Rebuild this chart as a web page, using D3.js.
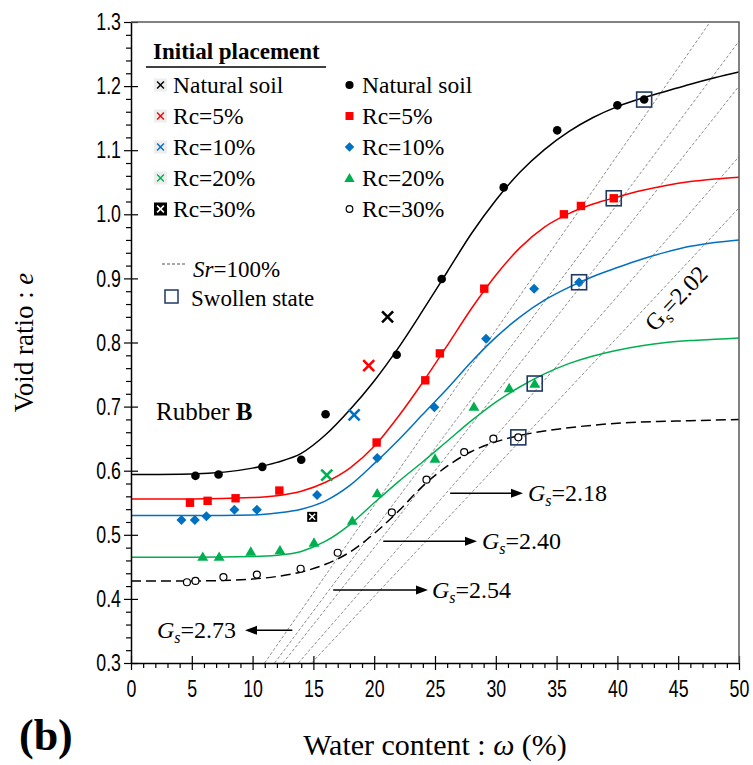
<!DOCTYPE html>
<html>
<head>
<meta charset="utf-8">
<script src="https://cdn.jsdelivr.net/npm/d3@7"></script>
<style>
  body { margin: 0; background: #fff; }
  svg { display: block; }
</style>
</head>
<body>
<svg id="chart" width="753" height="765"></svg>
<script>
// ---- axis ticks ----
const xTicks = [0, 5, 10, 15, 20, 25, 30, 35, 40, 45, 50];
const yTicks = [0.3, 0.4, 0.5, 0.6, 0.7, 0.8, 0.9, 1.0, 1.1, 1.2, 1.3];

// ---- measured compaction points: water content w (%) and void ratio e ----
const natW  = [5.3, 7.2, 10.8, 14.0, 16.0, 21.85, 25.55, 30.65, 35.05, 40.0, 42.2];
const natE  = [0.592, 0.594, 0.606, 0.617, 0.688, 0.781, 0.899, 1.042, 1.131, 1.170, 1.179];
const rc5W  = [4.85, 6.3, 8.6, 12.2, 20.2, 24.2, 25.4, 29.05, 35.6, 37.0, 39.7];
const rc5E  = [0.550, 0.553, 0.557, 0.569, 0.644, 0.741, 0.783, 0.884, 1.000, 1.013, 1.025];
const rc10W = [4.15, 5.25, 6.2, 8.5, 10.35, 15.3, 20.25, 24.95, 29.2, 33.15, 36.85];
const rc10E = [0.523, 0.523, 0.529, 0.539, 0.539, 0.562, 0.620, 0.699, 0.806, 0.884, 0.894];
const rc20W = [5.9, 7.25, 9.85, 12.25, 15.05, 18.2, 20.25, 25.0, 28.2, 31.1, 33.2];
const rc20E = [0.466, 0.466, 0.474, 0.476, 0.488, 0.522, 0.565, 0.619, 0.700, 0.729, 0.736];
const rc30W = [4.6, 5.3, 7.6, 10.35, 13.95, 17.0, 21.45, 24.3, 27.4, 29.8, 31.85];
const rc30E = [0.426, 0.428, 0.434, 0.438, 0.447, 0.472, 0.535, 0.586, 0.629, 0.650, 0.652];

// ---- fitted swelling curves, sampled along w ----
const fitW    = [0, 5, 10, 12, 14, 16, 18, 20, 22, 24, 26, 28, 30, 32, 34, 36, 38, 40, 42, 44, 46, 48, 50];
const natFit  = [0.594, 0.595, 0.604, 0.613, 0.627, 0.656, 0.695, 0.740, 0.792, 0.850, 0.910, 0.970, 1.022, 1.066, 1.101, 1.129, 1.151, 1.168, 1.181, 1.192, 1.203, 1.213, 1.222];
const rc5Fit  = [0.556, 0.556, 0.558, 0.561, 0.568, 0.582, 0.604, 0.638, 0.685, 0.738, 0.795, 0.853, 0.905, 0.948, 0.980, 1.001, 1.016, 1.027, 1.037, 1.045, 1.051, 1.055, 1.058];
const rc10Fit = [0.530, 0.530, 0.531, 0.534, 0.540, 0.553, 0.577, 0.611, 0.648, 0.688, 0.728, 0.770, 0.808, 0.840, 0.866, 0.886, 0.903, 0.917, 0.930, 0.941, 0.950, 0.956, 0.960];
const rc20Fit = [0.465, 0.465, 0.466, 0.468, 0.474, 0.490, 0.516, 0.550, 0.583, 0.614, 0.646, 0.678, 0.707, 0.731, 0.751, 0.767, 0.779, 0.788, 0.795, 0.800, 0.803, 0.805, 0.807];
const rc30Fit = [0.428, 0.428, 0.431, 0.435, 0.442, 0.454, 0.473, 0.502, 0.537, 0.576, 0.607, 0.630, 0.645, 0.655, 0.662, 0.667, 0.671, 0.674, 0.676, 0.677, 0.678, 0.679, 0.680];

// ---- initial placement (one point per mixture) ----
const initLabels = ["Natural soil", "Rc=5%", "Rc=10%", "Rc=20%", "Rc=30%"];
const initW = [21.1, 19.55, 18.35, 16.1, 14.9];
const initE = [0.840, 0.764, 0.687, 0.593, 0.528];

// ---- swollen state ----
const swollenW = [42.2, 39.7, 36.85, 33.2, 31.85];
const swollenE = [1.179, 1.025, 0.894, 0.736, 0.652];

// ---- Sr = 100 % lines, e = w * Gs ----
const gsValues = [2.73, 2.54, 2.40, 2.18, 2.02];

// ---- styling ----
const serif  = "'Liberation Serif','Times New Roman',serif";
const sans   = "'Liberation Sans',Arial,sans-serif";
const colors = ["#000000", "#FF0000", "#0070C0", "#00B050", "#000000"];
const shapes = ["circle", "square", "diamond", "triangle", "open"];

const series = [
  { w: natW,  e: natE,  fit: natFit,  dash: null },
  { w: rc5W,  e: rc5E,  fit: rc5Fit,  dash: null },
  { w: rc10W, e: rc10E, fit: rc10Fit, dash: null },
  { w: rc20W, e: rc20E, fit: rc20Fit, dash: null },
  { w: rc30W, e: rc30E, fit: rc30Fit, dash: "10,5" }
].map((s, i) => ({ ...s, color: colors[i], shape: shapes[i], label: initLabels[i] }));

const svg = d3.select("#chart");
const x = d3.scaleLinear().domain([0, 50]).range([131, 739]);
const y = d3.scaleLinear().domain([0.3, 1.3]).range([663, 22]);

svg.append("defs").append("clipPath").attr("id", "plot")
  .append("rect")
  .attr("x", x(0)).attr("y", y(1.3))
  .attr("width", x(50) - x(0)).attr("height", y(0.3) - y(1.3));

// ---- Sr = 100% reference lines ----
const gSr = svg.append("g").attr("clip-path", "url(#plot)");
gsValues.forEach(gs => {
  const e0 = 0.3, e1 = 1.3;
  gSr.append("line")
    .attr("x1", x(e0 / gs * 100)).attr("y1", y(e0))
    .attr("x2", x(e1 / gs * 100)).attr("y2", y(e1))
    .attr("stroke", "#8c8c8c").attr("stroke-width", 1)
    .attr("stroke-dasharray", "3,2");
});

// ---- fitted curves ----
const line = d3.line().x(d => x(d[0])).y(d => y(d[1])).curve(d3.curveMonotoneX);
const gFit = svg.append("g").attr("clip-path", "url(#plot)");
series.forEach(s => {
  gFit.append("path")
    .datum(fitW.map((w, i) => [w, s.fit[i]]))
    .attr("d", line)
    .attr("fill", "none")
    .attr("stroke", s.color)
    .attr("stroke-width", 1.5)
    .attr("stroke-dasharray", s.dash);
});

// ---- marker drawing ----
function marker(g, shape, cx, cy, color, scale = 1) {
  if (shape === "circle") {
    g.append("circle").attr("cx", cx).attr("cy", cy).attr("r", 4.3 * scale).attr("fill", color);
  } else if (shape === "open") {
    g.append("circle").attr("cx", cx).attr("cy", cy).attr("r", 3.5 * scale)
      .attr("fill", "#fff").attr("stroke", color).attr("stroke-width", 1.2);
  } else if (shape === "square") {
    const h = 4.2 * scale;
    g.append("rect").attr("x", cx - h).attr("y", cy - h).attr("width", 2 * h).attr("height", 2 * h).attr("fill", color);
  } else if (shape === "diamond") {
    const h = 5 * scale;
    g.append("path").attr("d", `M${cx},${cy - h}L${cx + h},${cy}L${cx},${cy + h}L${cx - h},${cy}Z`).attr("fill", color);
  } else if (shape === "triangle") {
    const h = 5.2 * scale;
    g.append("path").attr("d", `M${cx},${cy - h}L${cx + h * 1.05},${cy + h * 0.8}L${cx - h * 1.05},${cy + h * 0.8}Z`).attr("fill", color);
  }
}
function cross(g, cx, cy, color, h, sw) {
  g.append("path").attr("d", `M${cx - h},${cy - h}L${cx + h},${cy + h}M${cx - h},${cy + h}L${cx + h},${cy - h}`)
    .attr("stroke", color).attr("stroke-width", sw).attr("fill", "none");
}
function boxedCross(g, cx, cy, size, h, sw) {
  g.append("rect").attr("x", cx - size / 2).attr("y", cy - size / 2).attr("width", size).attr("height", size).attr("fill", "#000");
  cross(g, cx, cy, "#fff", h, sw);
}

// ---- data points ----
const gPts = svg.append("g");
series.forEach(s => {
  s.w.forEach((w, i) => marker(gPts, s.shape, x(w), y(s.e[i]), s.color));
});

// initial placement crosses
initW.forEach((w, i) => {
  if (i === 4) boxedCross(gPts, x(w), y(initE[i]), 10, 3, 1.4);
  else cross(gPts, x(w), y(initE[i]), colors[i], 5.5, 2.6);
});

// swollen state squares
swollenW.forEach((w, i) => {
  gPts.append("rect")
    .attr("x", x(w) - 7.5).attr("y", y(swollenE[i]) - 7.5)
    .attr("width", 15).attr("height", 15)
    .attr("fill", "none").attr("stroke", "#1F3864").attr("stroke-width", 1.6);
});

// ---- axes ----
// condensed tick labels: squeeze each label horizontally
const axisFont = g => g.selectAll("text")
  .attr("font-family", sans).attr("font-size", 24).attr("fill", "#000")
  .each(function () {
    const w = this.getComputedTextLength();
    d3.select(this).attr("textLength", w * 0.74).attr("lengthAdjust", "spacingAndGlyphs");
  });

const xMinor = d3.range(0, 51).filter(d => d % 5 !== 0);
svg.append("g").attr("transform", `translate(0,${y(0.3)})`)
  .call(d3.axisBottom(x).tickValues(xMinor).tickSize(5).tickSizeOuter(0).tickFormat(""))
  .call(g => g.select(".domain").remove());
const gx = svg.append("g").attr("transform", `translate(0,${y(0.3)})`)
  .call(d3.axisBottom(x).tickValues(xTicks).tickSize(7).tickSizeOuter(0).tickPadding(10).tickFormat(d3.format("d")))
  .call(axisFont);
gx.selectAll(".tick line").attr("y1", -7);

const yMinor = d3.range(0, 51).map(i => 0.3 + i * 0.02).filter((d, i) => i % 5 !== 0);
svg.append("g").attr("transform", `translate(${x(0)},0)`)
  .call(d3.axisLeft(y).tickValues(yMinor).tickSize(5).tickSizeOuter(0).tickFormat(""))
  .call(g => g.select(".domain").remove());
const gy = svg.append("g").attr("transform", `translate(${x(0)},0)`)
  .call(d3.axisLeft(y).tickValues(yTicks).tickSize(7).tickSizeOuter(0).tickPadding(3).tickFormat(d3.format(".1f")))
  .call(axisFont);
gy.selectAll(".tick line").attr("x1", 7);

svg.selectAll(".domain").attr("stroke", "#000").attr("stroke-width", 1.5);
svg.selectAll(".tick line").attr("stroke", "#000").attr("stroke-width", 1.2);

// top and right frame
svg.append("path")
  .attr("d", `M${x(0)},${y(1.3)}H${x(50)}V${y(0.3)}`)
  .attr("fill", "none").attr("stroke", "#595959").attr("stroke-width", 1.5);

// ---- axis titles ----
svg.append("text")
  .attr("transform", `translate(33,${(y(0.3) + y(1.3)) / 2}) rotate(-90)`)
  .attr("text-anchor", "middle").attr("font-family", serif).attr("font-size", 27)
  .call(t => {
    t.append("tspan").text("Void ratio : ");
    t.append("tspan").attr("font-style", "italic").text("e");
  });
svg.append("text")
  .attr("x", (x(0) + x(50)) / 2).attr("y", 755)
  .attr("text-anchor", "middle").attr("font-family", serif).attr("font-size", 30)
  .call(t => {
    t.append("tspan").text("Water content : ");
    t.append("tspan").attr("font-style", "italic").text("ω");
    t.append("tspan").text(" (%)");
  });
svg.append("text")
  .attr("x", 19).attr("y", 750)
  .attr("font-family", serif).attr("font-size", 44).attr("font-weight", "bold")
  .text("(b)");

// ---- legend ----
const gLeg = svg.append("g").attr("font-family", serif).attr("font-size", 23.5);
gLeg.append("text").attr("x", 153).attr("y", 59)
  .attr("font-weight", "bold").attr("font-size", 23).text("Initial placement");
gLeg.append("line").attr("x1", 146).attr("x2", 326).attr("y1", 67).attr("y2", 67)
  .attr("stroke", "#000").attr("stroke-width", 1.5);

const legRowY = [85, 116, 147, 178, 209];
initLabels.forEach((lab, i) => {
  const cy = legRowY[i];
  if (i === 4) {
    boxedCross(gLeg, 160.5, cy, 13, 3.4, 1.5);
  } else {
    gLeg.append("rect").attr("x", 154).attr("y", cy - 6.5).attr("width", 13).attr("height", 13).attr("fill", "#eeeeee");
    cross(gLeg, 160.5, cy, colors[i], 3.4, 1.4);
  }
  gLeg.append("text").attr("x", 173).attr("y", cy + 8).text(lab);
});
series.forEach((s, i) => {
  const cy = legRowY[i];
  marker(gLeg, s.shape, 349.5, cy, s.color, 0.95);
  gLeg.append("text").attr("x", 362).attr("y", cy + 8).text(s.label);
});

// Sr = 100% and swollen state keys
gLeg.append("line").attr("x1", 162).attr("x2", 187).attr("y1", 264).attr("y2", 264)
  .attr("stroke", "#8c8c8c").attr("stroke-width", 1.5).attr("stroke-dasharray", "3,2");
gLeg.append("text").attr("x", 193).attr("y", 277).attr("font-size", 23)
  .call(t => {
    t.append("tspan").attr("font-style", "italic").text("Sr");
    t.append("tspan").text("=100%");
  });
gLeg.append("rect").attr("x", 165).attr("y", 290).attr("width", 13).attr("height", 13)
  .attr("fill", "none").attr("stroke", "#1F3864").attr("stroke-width", 1.5);
gLeg.append("text").attr("x", 191).attr("y", 306).attr("font-size", 23).text("Swollen state");

// material label
svg.append("text").attr("x", 156).attr("y", 420)
  .attr("font-family", serif).attr("font-size", 25)
  .call(t => {
    t.append("tspan").text("Rubber ");
    t.append("tspan").attr("font-weight", "bold").text("B");
  });

// ---- Gs annotations ----
const gAnn = svg.append("g");
function gsText(g, tx, ty, value, italic = true) {
  const t = g.append("text").attr("x", tx).attr("y", ty)
    .attr("font-family", serif).attr("font-size", 24);
  t.append("tspan").attr("font-style", italic ? "italic" : "normal").text("G");
  t.append("tspan").attr("font-style", italic ? "italic" : "normal").attr("font-size", 16).attr("dy", 5).text("s");
  t.append("tspan").attr("dy", -5).text("=" + value.toFixed(2));
  return t;
}
function arrow(g, x1, x2, yy) {
  const dir = Math.sign(x2 - x1);
  g.append("line").attr("x1", x1).attr("x2", x2 - dir * 9).attr("y1", yy).attr("y2", yy)
    .attr("stroke", "#000").attr("stroke-width", 1.5);
  g.append("path").attr("d", `M${x2},${yy}L${x2 - dir * 12},${yy - 4.5}L${x2 - dir * 12},${yy + 4.5}Z`).attr("fill", "#000");
}
// arrows start on their Sr line, at the e value where they leave it
const annE = [0.351, 0.414, 0.490, 0.565];
const annEnd = [245, 428, 477, 523];
annE.forEach((e, i) => {
  const startX = x(e / gsValues[i] * 100);
  arrow(gAnn, startX + (i === 0 ? 5 : 4), annEnd[i], y(e));
});
gsText(gAnn, 157, y(annE[0]) + 8, gsValues[0]);
gsText(gAnn, 432, y(annE[1]) + 8, gsValues[1]);
gsText(gAnn, 482, y(annE[2]) + 8, gsValues[2]);
gsText(gAnn, 528, y(annE[3]) + 8, gsValues[3]);

// rotated label along the Gs = 2.02 line
const ang = Math.atan2(y(1.0) - y(0.5), x(1.0 / 2.02 * 100) - x(0.5 / 2.02 * 100)) * 180 / Math.PI;
gsText(gAnn, 0, 0, gsValues[4], false)
  .attr("x", null).attr("y", null)
  .attr("text-anchor", "middle")
  .attr("transform", `translate(682,304) rotate(${ang})`);
</script>
</body>
</html>
